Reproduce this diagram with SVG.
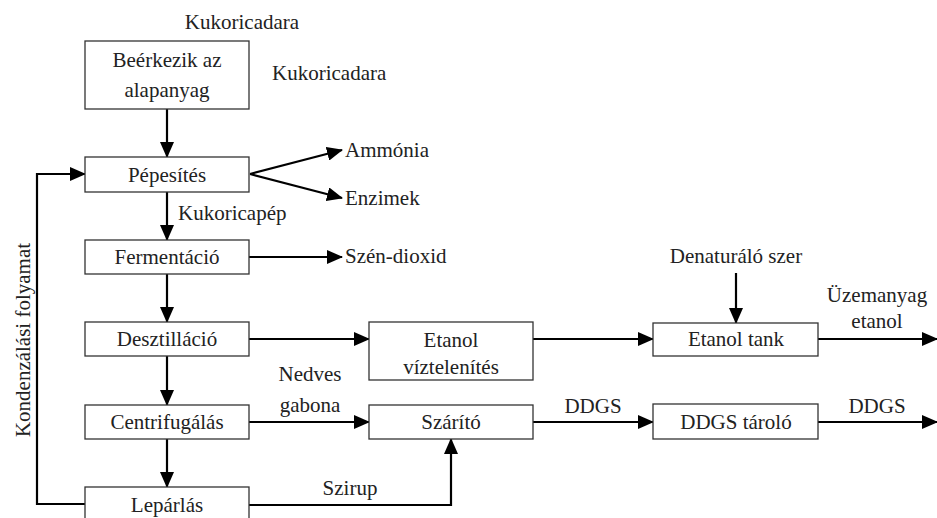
<svg xmlns="http://www.w3.org/2000/svg" width="937" height="518" viewBox="0 0 937 518" font-family="'Liberation Serif', 'DejaVu Serif', 'Times New Roman', Times, serif">
<style>
text{font-family:"Liberation Serif","DejaVu Serif","Times New Roman",Times,serif;font-size:21px;fill:#222}
.m{text-anchor:middle}
rect{fill:#fff;stroke:#333;stroke-width:1.3}
.c path{fill:none;stroke:#000;stroke-width:2.2}
</style>
<defs>
<marker id="a" markerUnits="userSpaceOnUse" markerWidth="16" markerHeight="14" refX="15" refY="7" orient="auto">
<path d="M0,0 L16,7 L0,14 Z" fill="#000"/>
</marker>
</defs>
<g class="c">
<path d="M167,109 V157" marker-end="url(#a)"/>
<path d="M167,192 V240" marker-end="url(#a)"/>
<path d="M167,274 V322" marker-end="url(#a)"/>
<path d="M167,356 V405" marker-end="url(#a)"/>
<path d="M167,439 V487" marker-end="url(#a)"/>
<path d="M85,504 H37 V174 H85" marker-end="url(#a)"/>
<path d="M250,174 L342,150" marker-end="url(#a)"/>
<path d="M250,174 L342,198" marker-end="url(#a)"/>
<path d="M249,257 H342" marker-end="url(#a)"/>
<path d="M249,339 H369" marker-end="url(#a)"/>
<path d="M533,339 H653" marker-end="url(#a)"/>
<path d="M736,273 V323" marker-end="url(#a)"/>
<path d="M818,339 H937" marker-end="url(#a)"/>
<path d="M249,422 H369" marker-end="url(#a)"/>
<path d="M533,422 H653" marker-end="url(#a)"/>
<path d="M818,422 H937" marker-end="url(#a)"/>
<path d="M249,505 H451 V439" marker-end="url(#a)"/>
</g>
<g id="beerkezik"><rect x="85" y="41" width="164" height="68"/><text class="m" x="167" y="67">Beérkezik az</text><text class="m" x="167" y="97">alapanyag</text></g>
<g id="pepesites"><rect x="85" y="157" width="164" height="35"/><text class="m" x="167" y="182">Pépesítés</text></g>
<g id="fermentacio"><rect x="85" y="240" width="164" height="34"/><text class="m" x="167" y="264">Fermentáció</text></g>
<g id="desztillacio"><rect x="85" y="322" width="164" height="34"/><text class="m" x="167" y="346">Desztilláció</text></g>
<g id="centrifugalas"><rect x="85" y="405" width="164" height="34"/><text class="m" x="167" y="429">Centrifugálás</text></g>
<g id="leparlas"><rect x="85" y="487" width="164" height="40"/><text class="m" x="167" y="512">Lepárlás</text></g>
<g id="etanolviz"><rect x="369" y="322" width="164" height="58"/><text class="m" x="451" y="347">Etanol</text><text class="m" x="451" y="374">víztelenítés</text></g>
<g id="szarito"><rect x="369" y="405" width="164" height="34"/><text class="m" x="451" y="429">Szárító</text></g>
<g id="etanoltank"><rect x="653" y="323" width="165" height="33"/><text class="m" x="736" y="346">Etanol tank</text></g>
<g id="ddgstarolo"><rect x="653" y="404" width="165" height="35"/><text class="m" x="736" y="429">DDGS tároló</text></g>
<g id="labels">
<text class="m" x="242" y="29">Kukoricadara</text>
<text x="272" y="80">Kukoricadara</text>
<text x="178" y="220">Kukoricapép</text>
<text x="345" y="157">Ammónia</text>
<text x="345" y="205">Enzimek</text>
<text x="345" y="263">Szén-dioxid</text>
<text class="m" x="736" y="263">Denaturáló szer</text>
<text class="m" x="877" y="302">Üzemanyag</text>
<text class="m" x="877" y="328">etanol</text>
<text class="m" x="310" y="381">Nedves</text>
<text class="m" x="310" y="412">gabona</text>
<text class="m" x="593" y="413">DDGS</text>
<text class="m" x="877" y="413">DDGS</text>
<text class="m" x="350" y="495">Szirup</text>
<text class="m" transform="translate(30,340) rotate(-90)">Kondenzálási folyamat</text>
</g>
</svg>
